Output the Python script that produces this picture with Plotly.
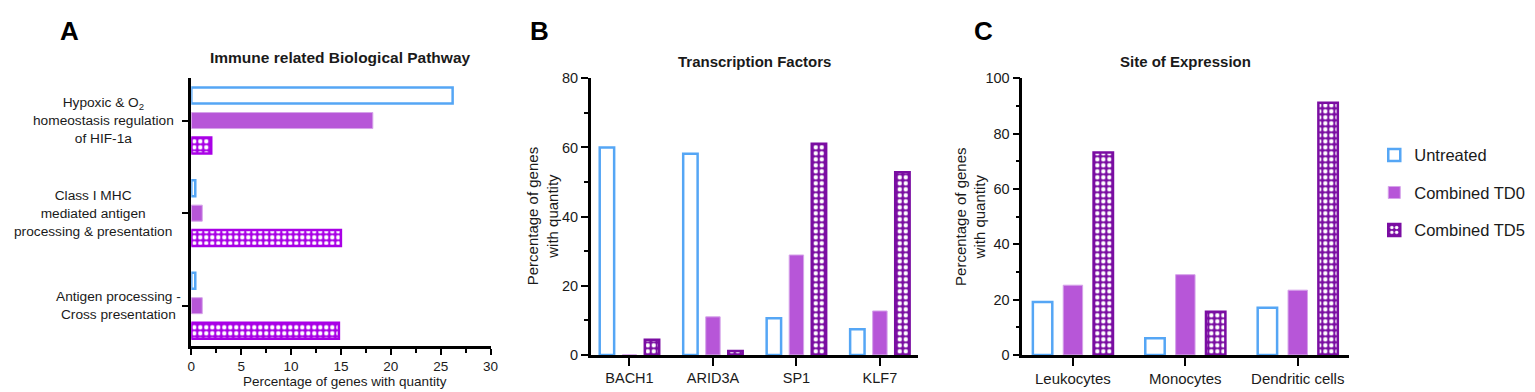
import plotly.graph_objects as go

# ---------------- data ----------------
series_names = ["Untreated", "Combined TD0", "Combined TD5"]

pathways = [
    "Hypoxic & O2 homeostasis regulation of HIF-1a",
    "Class I MHC mediated antigen processing & presentation",
    "Antigen processing - Cross presentation",
]
pathway_labels = [
    "Hypoxic & O<sub>2</sub><br>homeostasis regulation<br>of HIF-1a",
    "Class I MHC<br>mediated antigen<br>processing & presentation",
    "Antigen processing -<br>Cross presentation",
]
untreated_A = [26.2, 0.4, 0.4]
td0_A = [18.2, 1.1, 1.1]
td5_A = [2.0, 15.0, 14.8]

tfs = ["BACH1", "ARID3A", "SP1", "KLF7"]
untreated_B = [60.0, 58.2, 10.6, 7.4]
td0_B = [0.0, 11.0, 28.9, 12.7]
td5_B = [4.4, 1.1, 61.1, 52.8]

sites = ["Leukocytes", "Monocytes", "Dendritic cells"]
untreated_C = [19.1, 6.0, 17.0]
td0_C = [25.2, 29.0, 23.4]
td5_C = [73.2, 15.6, 91.2]

x_ticks_A = [0, 5, 10, 15, 20, 25, 30]
y_ticks_B = [0, 20, 40, 60, 80]
y_ticks_C = [0, 20, 40, 60, 80, 100]

# ---------------- style ----------------
W, H = 1535, 392
FONT = "Liberation Sans, Arial, Helvetica, sans-serif"
TXT = "#1a1a1a"
BLUE = "#55A6F5"
ORCHID = "#B756D8"
ORCHID_LINE = "#D6A3EA"
PURPLE_DARK = "#7A0DA2"
PURPLE_BRIGHT = "#A900E6"


def px(x):
    return x / W


def py(y):
    return (H - y) / H


def style(i, td5_color):
    if i == 0:
        return dict(color="white", line=dict(color=BLUE, width=2.5))
    if i == 1:
        return dict(color=ORCHID, line=dict(color=ORCHID_LINE, width=1))
    return dict(
        color=td5_color,
        line=dict(color=td5_color, width=2.5),
        pattern=dict(shape=".", fgcolor="white", bgcolor=td5_color,
                     size=6, solidity=0.42, fillmode="replace"),
    )


fig = go.Figure()

# Panel A (horizontal)
for i, vals in enumerate([untreated_A, td0_A, td5_A]):
    fig.add_trace(go.Bar(
        x=vals, y=pathways, orientation="h", name=series_names[i],
        marker=style(i, PURPLE_BRIGHT), showlegend=False,
        xaxis="x", yaxis="y", legendgroup=series_names[i],
    ))

# Panel B
for i, vals in enumerate([untreated_B, td0_B, td5_B]):
    fig.add_trace(go.Bar(
        x=tfs, y=vals, name=series_names[i],
        marker=style(i, PURPLE_DARK), showlegend=False,
        xaxis="x2", yaxis="y2", legendgroup=series_names[i],
    ))

# Panel C
for i, vals in enumerate([untreated_C, td0_C, td5_C]):
    fig.add_trace(go.Bar(
        x=sites, y=vals, name=series_names[i],
        marker=style(i, PURPLE_DARK), showlegend=True,
        xaxis="x3", yaxis="y3", legendgroup=series_names[i],
    ))

axis_common = dict(
    showline=True, linecolor="black", linewidth=2.5,
    ticks="outside", tickcolor="black", tickwidth=2,
    showgrid=False, zeroline=False, fixedrange=True,
    tickfont=dict(family=FONT, size=14.5, color=TXT),
)

y_dom_A = [py(344), py(65)]
y_dom_BC = [py(353.3), py(65)]

fig.update_layout(
    width=W, height=H,
    margin=dict(l=0, r=0, t=0, b=0),
    paper_bgcolor="white", plot_bgcolor="white",
    font=dict(family=FONT, color=TXT),
    barmode="group", bargap=0.19, bargroupgap=0.36,
    xaxis=dict(axis_common, domain=[px(180.7), px(482.3)], anchor="y",
               range=[0, 30], tickvals=x_ticks_A, ticklen=6,
               tickfont=dict(family=FONT, size=13.5, color=TXT),
               minor=dict(dtick=2.5, ticklen=4, tickwidth=2,
                          tickcolor="black", ticks="outside")),
    yaxis=dict(axis_common, domain=y_dom_A, anchor="x",
               type="category", categoryorder="array", categoryarray=pathways,
               range=[2.435, -0.456], ticklen=7, showticklabels=False),
    xaxis2=dict(axis_common, domain=[px(583.3), px(913)], anchor="y2",
                type="category", range=[-0.464, 3.455], ticklen=8),
    yaxis2=dict(axis_common, domain=y_dom_BC, anchor="x2",
                range=[0, 80], tickvals=y_ticks_B, ticklen=7,
                minor=dict(dtick=10, ticklen=4, tickwidth=2,
                           tickcolor="black", ticks="outside")),
    xaxis3=dict(axis_common, domain=[px(1018.3), px(1348)], anchor="y3",
                type="category", range=[-0.45, 2.46], ticklen=8,
                tickfont=dict(family=FONT, size=15, color=TXT)),
    yaxis3=dict(axis_common, domain=y_dom_BC, anchor="x3",
                range=[0, 100], tickvals=y_ticks_C, ticklen=7,
                minor=dict(dtick=10, ticklen=4, tickwidth=2,
                           tickcolor="black", ticks="outside")),
    legend=dict(
        x=px(1373), y=py(127), xanchor="left", yanchor="top",
        font=dict(family=FONT, size=16.5, color=TXT),
        tracegroupgap=13, itemclick=False, itemdoubleclick=False,
        bgcolor="rgba(0,0,0,0)",
    ),
)

annotations = []
# panel letters
for letter, xpos in [("A", 46), ("B", 520), ("C", 968)]:
    annotations.append(dict(
        text=f"<b>{letter}</b>", x=px(xpos), y=py(16), xref="paper", yref="paper",
        xanchor="left", yanchor="middle", showarrow=False,
        font=dict(family=FONT, size=26, color="black")))
# panel titles
for title, xc, yc, size in [
    ("Immune related Biological Pathway", 331.5, 43, 15.5),
    ("Transcription Factors", 748, 47.5, 15),
    ("Site of Expression", 1183, 47.5, 15),
]:
    annotations.append(dict(
        text=f"<b>{title}</b>", x=px(xc), y=py(yc), xref="paper", yref="paper",
        xanchor="center", yanchor="middle", showarrow=False,
        font=dict(family=FONT, size=size, color=TXT)))
# category labels of panel A (centered multi-line)
label_centers_A = [92, 82, 107]
for cat, lab, xc in zip(pathways, pathway_labels, label_centers_A):
    annotations.append(dict(
        text=lab, x=px(xc), y=cat, xref="paper", yref="y",
        xanchor="center", yanchor="middle", align="center", showarrow=False,
        font=dict(family=FONT, size=13.7, color=TXT)))
# axis titles
annotations.append(dict(
    text="Percentage of genes with quantity", x=px(336), y=py(381),
    xref="paper", yref="paper", xanchor="center", yanchor="middle",
    showarrow=False, font=dict(family=FONT, size=13.5, color=TXT)))
for xc in [535, 966]:
    annotations.append(dict(
        text="Percentage of genes<br>with quantity", x=px(xc), y=py(209),
        xref="paper", yref="paper", xanchor="center", yanchor="middle",
        textangle=-90, align="center", showarrow=False,
        font=dict(family=FONT, size=15, color=TXT)))

fig.update_layout(annotations=annotations)

fig.write_html("out.html")
